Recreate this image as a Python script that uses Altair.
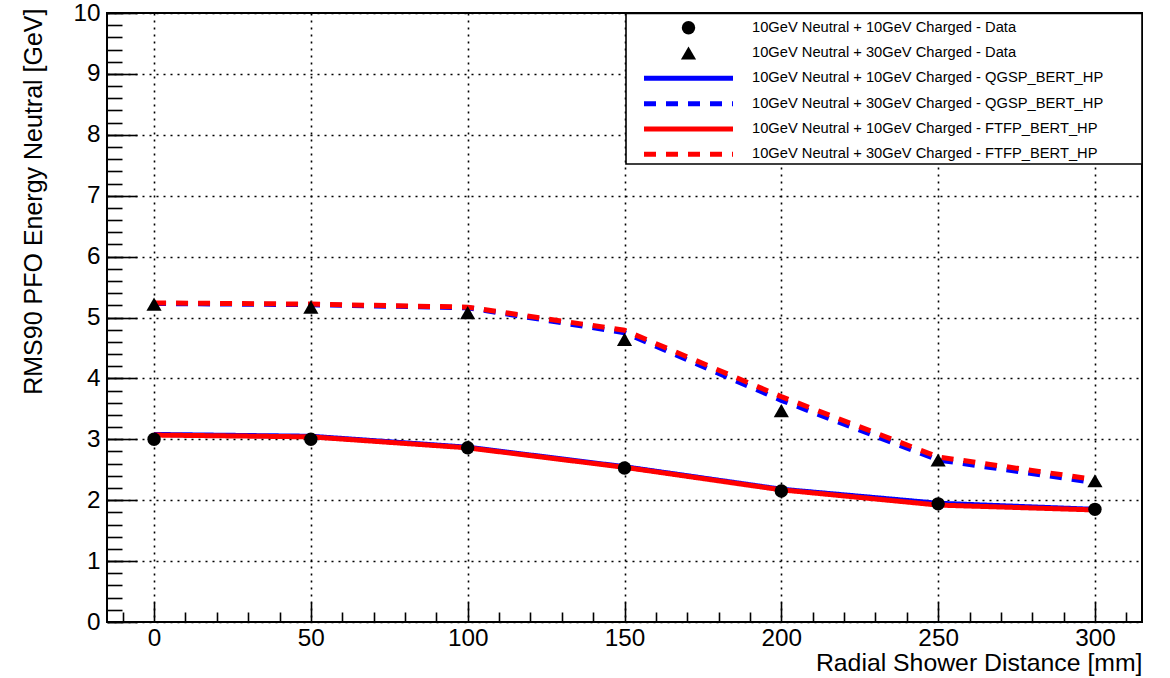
import altair as alt
import pandas as pd

# ---------------- data ----------------
distance_mm = [0, 50, 100, 150, 200, 250, 300]
data_n10_c10 = [3.00, 3.00, 2.86, 2.53, 2.15, 1.94, 1.85]
data_n10_c30 = [5.22, 5.17, 5.08, 4.64, 3.47, 2.66, 2.32]
qgsp_n10_c10 = [3.08, 3.05, 2.87, 2.55, 2.18, 1.95, 1.85]
qgsp_n10_c30 = [5.23, 5.21, 5.16, 4.75, 3.64, 2.66, 2.29]
ftfp_n10_c10 = [3.07, 3.04, 2.86, 2.54, 2.17, 1.92, 1.84]
ftfp_n10_c30 = [5.24, 5.22, 5.17, 4.79, 3.70, 2.71, 2.34]

legend_labels = [
    "10GeV Neutral + 10GeV Charged - Data",
    "10GeV Neutral + 30GeV Charged - Data",
    "10GeV Neutral + 10GeV Charged - QGSP_BERT_HP",
    "10GeV Neutral + 30GeV Charged - QGSP_BERT_HP",
    "10GeV Neutral + 10GeV Charged - FTFP_BERT_HP",
    "10GeV Neutral + 30GeV Charged - FTFP_BERT_HP",
]

x_major_ticks = [0, 50, 100, 150, 200, 250, 300]
x_minor_ticks = [-10, 10, 20, 30, 40, 60, 70, 80, 90, 110, 120, 130, 140, 160, 170,
                 180, 190, 210, 220, 230, 240, 260, 270, 280, 290, 310]
y_major_ticks = [0, 1, 2, 3, 4, 5, 6, 7, 8, 9, 10]
y_minor_ticks = [round(i * 0.2, 1) for i in range(51)]

# ---------------- tables ----------------
rows = []
for model, c10, c30 in [("QGSP_BERT_HP", qgsp_n10_c10, qgsp_n10_c30),
                        ("FTFP_BERT_HP", ftfp_n10_c10, ftfp_n10_c30)]:
    for d, v in zip(distance_mm, c10):
        rows.append({"model": model, "charged": "10GeV", "distance": d, "value": v})
    for d, v in zip(distance_mm, c30):
        rows.append({"model": model, "charged": "30GeV", "distance": d, "value": v})
lines_df = pd.DataFrame(rows)

circ_df = pd.DataFrame({"distance": distance_mm, "value": data_n10_c10})
tri_df = pd.DataFrame({"distance": distance_mm, "value": data_n10_c30})

legend_df = pd.DataFrame({"row": list(range(len(legend_labels))), "label": legend_labels})

W, H = 1035, 609
FONT = "Liberation Sans"
xscale = alt.Scale(domain=[-15, 315], nice=False, zero=False)
yscale = alt.Scale(domain=[0, 10], nice=False, zero=False)
dash_scale = alt.Scale(domain=["10GeV", "30GeV"], range=[[1, 0], [12, 10]])

# main axes (labels + grid)
x_main_axis = alt.Axis(orient="bottom", values=x_major_ticks, grid=True, gridColor="black",
                       gridDash=[2, 5], gridWidth=1.6, gridOpacity=1, ticks=False, tickSize=0,
                       domain=False, labelFontSize=24.3, labelFont=FONT, labelColor="black",
                       labelPadding=4, labelFlush=False,
                       title="Radial Shower Distance [mm]", titleFont=FONT, titleFontSize=24.8,
                       titleFontWeight="normal", titleColor="black", titleAnchor="end",
                       titleAlign="right", titleBaseline="alphabetic", titleX=W, titleY=48)
y_main_axis = alt.Axis(orient="left", values=y_major_ticks, grid=True, gridColor="black",
                       gridDash=[2, 5], gridWidth=1.6, gridOpacity=1, ticks=False, tickSize=0,
                       domain=False, labelFontSize=24.3, labelFont=FONT, labelColor="black",
                       labelPadding=7, labelFlush=False,
                       title="RMS90 PFO Energy Neutral [GeV]", titleFont=FONT, titleFontSize=25,
                       titleFontWeight="normal", titleColor="black", titleAnchor="end",
                       titleAngle=270, titleAlign="right", titleBaseline="alphabetic",
                       titleX=-66, titleY=-5)

# inward tick axes
x_major_tick_axis = alt.Axis(orient="top", offset=-H, values=x_major_ticks, ticks=True, tickSize=20,
                             tickWidth=1.6, tickColor="black", labels=False, domain=False,
                             grid=False, title=None)
y_major_tick_axis = alt.Axis(orient="right", offset=-W, values=y_major_ticks, ticks=True, tickSize=30,
                             tickWidth=1.6, tickColor="black", labels=False, domain=False,
                             grid=False, title=None)
x_minor_tick_axis = alt.Axis(orient="top", offset=-H, values=x_minor_ticks, ticks=True, tickSize=10,
                             tickWidth=1.6, tickColor="black", labels=False, domain=False,
                             grid=False, title=None)
y_minor_tick_axis = alt.Axis(orient="right", offset=-W, values=y_minor_ticks, ticks=True, tickSize=15,
                             tickWidth=1.6, tickColor="black", labels=False, domain=False,
                             grid=False, title=None)

blue = alt.Chart(lines_df).transform_filter(alt.datum.model == "QGSP_BERT_HP").mark_line(
    strokeWidth=5, color="#0000ff", strokeCap="butt", strokeJoin="miter"
).encode(
    x=alt.X("distance:Q", scale=xscale, axis=x_main_axis),
    y=alt.Y("value:Q", scale=yscale, axis=y_main_axis),
    strokeDash=alt.StrokeDash("charged:N", scale=dash_scale, legend=None),
    detail="charged:N",
)
red = alt.Chart(lines_df).transform_filter(alt.datum.model == "FTFP_BERT_HP").mark_line(
    strokeWidth=5, color="#ff0000", strokeCap="butt", strokeJoin="miter"
).encode(
    x=alt.X("distance:Q", scale=xscale, axis=None),
    y=alt.Y("value:Q", scale=yscale, axis=None),
    strokeDash=alt.StrokeDash("charged:N", scale=dash_scale, legend=None),
    detail="charged:N",
)
circles = alt.Chart(circ_df).mark_point(filled=True, shape="circle", size=180, color="black",
                                        opacity=1).encode(
    x=alt.X("distance:Q", scale=xscale, axis=x_major_tick_axis),
    y=alt.Y("value:Q", scale=yscale, axis=y_major_tick_axis),
)
triangles = alt.Chart(tri_df).mark_point(filled=True, shape="triangle-up", size=230, color="black",
                                         opacity=1).encode(
    x=alt.X("distance:Q", scale=xscale, axis=x_minor_tick_axis),
    y=alt.Y("value:Q", scale=yscale, axis=y_minor_tick_axis),
)

plot = alt.layer(blue, red, circles, triangles).resolve_axis(x="independent", y="independent")

# ---------------- legend ----------------
row_scale = alt.Scale(type="point", domain=list(range(len(legend_labels))), range=[14.7, 141.3],
                      padding=0)
leg_y = alt.Y("row:O", scale=row_scale, axis=None)

box = alt.Chart(pd.DataFrame({"k": [0]})).mark_rect(
    fill="white", stroke="black", strokeWidth=1.6
).encode(x=alt.value(519), x2=alt.value(W), y=alt.value(0.5), y2=alt.value(151))

leg_points = alt.Chart(legend_df).transform_filter(alt.datum.row < 2).mark_point(
    filled=True, opacity=1, color="black"
).encode(
    x=alt.value(581.5), y=leg_y,
    shape=alt.Shape("row:O", scale=alt.Scale(domain=[0, 1], range=["circle", "triangle-up"]),
                    legend=None),
    size=alt.Size("row:O", scale=alt.Scale(domain=[0, 1], range=[180, 230]), legend=None),
)
leg_lines = alt.Chart(legend_df).transform_filter(alt.datum.row >= 2).mark_rule(
    strokeWidth=5, strokeCap="butt"
).encode(
    x=alt.value(537), x2=alt.value(626), y=leg_y,
    color=alt.Color("row:O", scale=alt.Scale(domain=[2, 3, 4, 5],
                                             range=["#0000ff", "#0000ff", "#ff0000", "#ff0000"]),
                    legend=None),
    strokeDash=alt.StrokeDash("row:O", scale=alt.Scale(domain=[2, 3, 4, 5],
                                                       range=[[1, 0], [12, 10], [1, 0], [12, 10]]),
                              legend=None),
)
leg_text = alt.Chart(legend_df).mark_text(
    align="left", baseline="middle", font=FONT, fontSize=14.7, color="black"
).encode(x=alt.value(645), y=leg_y, text="label:N")

legend = alt.layer(box, leg_points, leg_lines, leg_text)

chart = alt.layer(plot, legend).resolve_scale(
    y="independent", x="independent", color="independent", strokeDash="independent",
    shape="independent", size="independent"
).resolve_axis(x="independent", y="independent").properties(
    width=W, height=H,
    padding={"left": 107, "top": 13, "right": 28, "bottom": 56},
    autosize=alt.AutoSizeParams(type="none"),
    background="white",
).configure_view(stroke="black", strokeWidth=2)

chart.save("out.html", embed_options={"renderer": "svg", "actions": False})
